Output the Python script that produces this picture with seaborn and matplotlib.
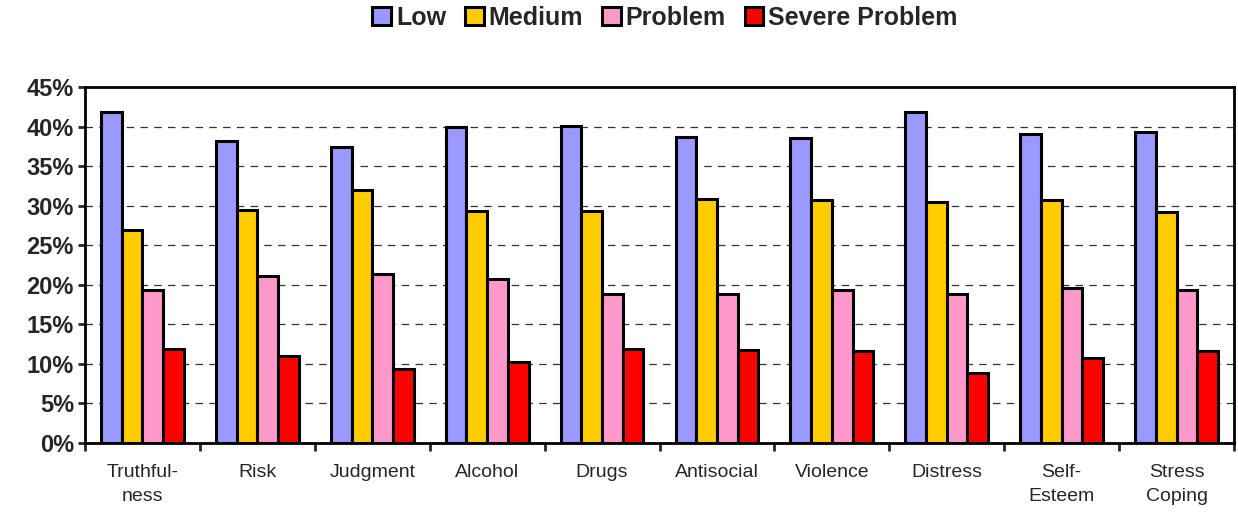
import numpy as np
import pandas as pd
import matplotlib
matplotlib.use("Agg")
import matplotlib.pyplot as plt
import seaborn as sns
from matplotlib.ticker import PercentFormatter, FixedLocator

# --- DATA (percent) ---
scales = ["Truthful-\nness", "Risk", "Judgment", "Alcohol", "Drugs",
          "Antisocial", "Violence", "Distress", "Self-\nEsteem", "Stress\nCoping"]
levels = ["Low", "Medium", "Problem", "Severe Problem"]

low = [41.8, 38.2, 37.4, 39.9, 40.1, 38.7, 38.5, 41.8, 39.1, 39.3]
medium = [26.9, 29.4, 32.0, 29.3, 29.3, 30.9, 30.7, 30.5, 30.7, 29.2]
problem = [19.4, 21.1, 21.3, 20.7, 18.8, 18.8, 19.4, 18.8, 19.6, 19.4]
severe = [11.9, 11.0, 9.4, 10.2, 11.9, 11.8, 11.6, 8.9, 10.8, 11.6]

level_colors = ["#9999FF", "#FFCC00", "#FF99CC", "#FF0000"]

rows = []
for lvl, vals in zip(levels, [low, medium, problem, severe]):
    for sc, v in zip(scales, vals):
        rows.append({"scale": sc, "level": lvl, "pct": v})
df = pd.DataFrame(rows)

# --- PLOT ---
sns.set_style("white")
plt.rcParams["font.family"] = ["Liberation Sans", "DejaVu Sans"]

fig = plt.figure(figsize=(12.38, 5.13), dpi=100)
ax = fig.add_axes([85 / 1238, 1 - 443 / 513, (1234 - 85) / 1238, (443 - 87) / 513])

sns.barplot(data=df, x="scale", y="pct", hue="level", order=scales,
            hue_order=levels, palette=level_colors, saturation=1, width=0.72, gap=0,
            edgecolor="black", linewidth=2.2, ax=ax, zorder=3)

handles, labels = ax.get_legend_handles_labels()
ax.get_legend().remove()

ax.set_ylim(0, 45)
ax.set_xlim(-0.5, len(scales) - 0.5)
ax.set_yticks(np.arange(0, 46, 5))
ax.yaxis.set_major_formatter(PercentFormatter(xmax=100, decimals=0))
ax.set_xlabel("")
ax.set_ylabel("")

# dashed gridlines between 0 and 45
for y in range(5, 45, 5):
    ax.axhline(y, color="#333333", linestyle=(0, (6, 5)), linewidth=0.9, zorder=1)

for side in ["left", "right", "top", "bottom"]:
    ax.spines[side].set_visible(True)
    ax.spines[side].set_color("black")
    ax.spines[side].set_linewidth(2.0)

ax.tick_params(axis="y", which="major", direction="out", length=5, width=2,
               labelsize=17, pad=3, left=True)
for t in ax.get_yticklabels():
    t.set_fontweight("bold")

# category separators as ticks on the x axis
ax.xaxis.set_minor_locator(FixedLocator(np.arange(-0.5, len(scales), 1.0)))
ax.tick_params(axis="x", which="major", length=0, labelsize=14, pad=15)
ax.tick_params(axis="x", which="minor", direction="out", length=6, width=2, bottom=True)
for t in ax.get_xticklabels():
    t.set_linespacing(1.55)

fig.legend(handles, labels, loc="center", bbox_to_anchor=(665 / 1238, 1 - 18 / 513),
           ncol=4, frameon=False, prop={"weight": "bold", "size": 18},
           handlelength=0.75, handleheight=0.75, handletextpad=0.2,
           columnspacing=0.75, borderaxespad=0)

plt.savefig("out.png", dpi=100)
plt.close()
